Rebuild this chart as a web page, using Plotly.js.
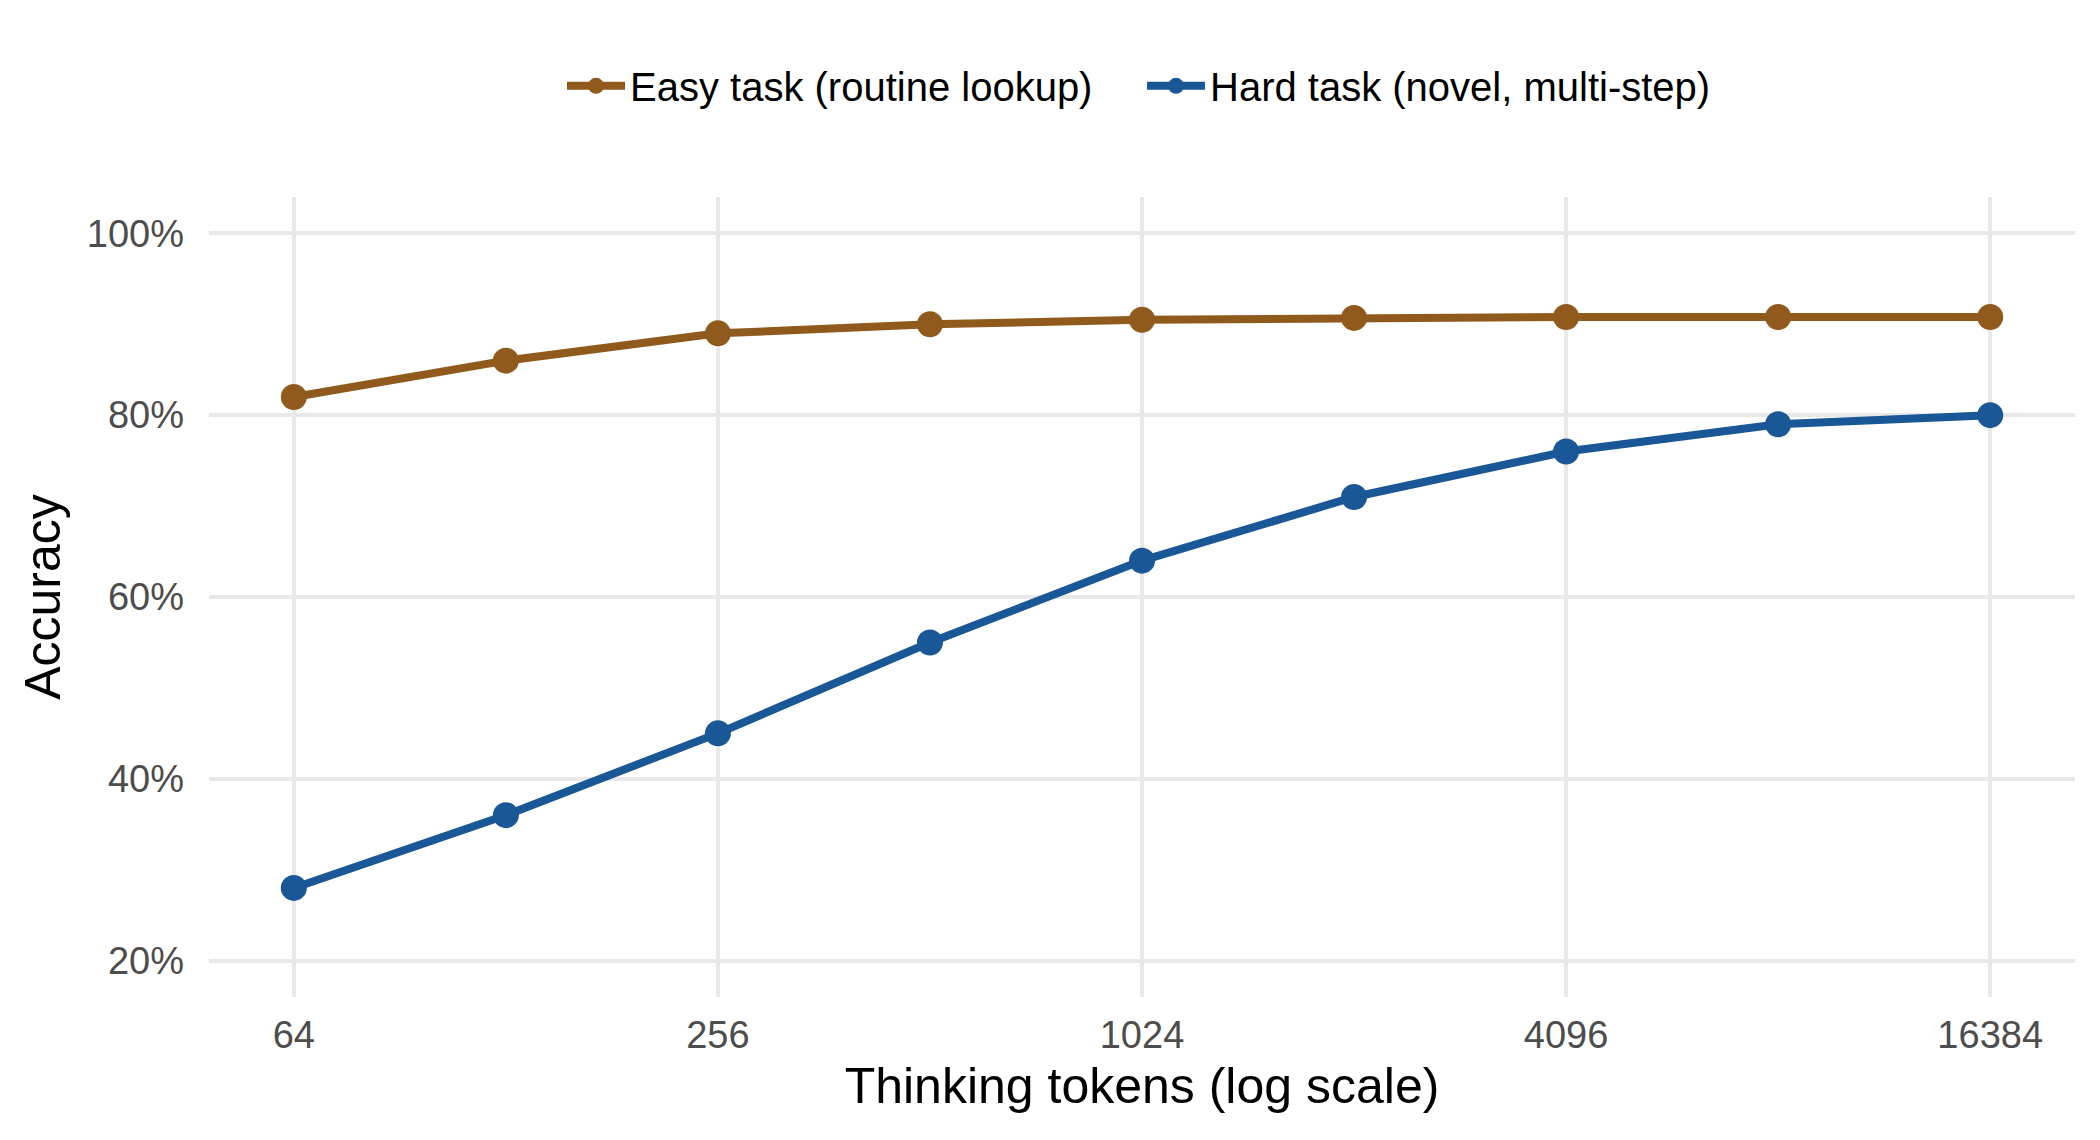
<!DOCTYPE html>
<html>
<head>
<meta charset="utf-8">
<script src="https://cdn.plot.ly/plotly-3.0.1.min.js"></script>
<style>html,body{margin:0;padding:0;background:#fff;}#chart{width:2100px;height:1140px;}</style>
</head>
<body>
<div id="chart"></div>
<script>
const tokens = [64, 128, 256, 512, 1024, 2048, 4096, 8192, 16384];
const easyAcc = [82, 86, 89, 90, 90.5, 90.7, 90.8, 90.8, 90.8];
const hardAcc = [28, 36, 45, 55, 64, 71, 76, 79, 80];
const seriesNames = ['Easy task (routine lookup)', 'Hard task (novel, multi-step)'];
const xTickVals = [64, 256, 1024, 4096, 16384];
const xTickText = ['64', '256', '1024', '4096', '16384'];
const yTickVals = [20, 40, 60, 80, 100];
const yTickText = ['20%', '40%', '60%', '80%', '100%'];

const FONT = 'Liberation Sans, Arial, Helvetica, sans-serif';
const colors = ['#8f5a1c', '#1a5796'];

const traces = [easyAcc, hardAcc].map((ys, i) => ({
  x: tokens, y: ys, name: seriesNames[i], type: 'scatter', mode: 'lines+markers',
  line: {color: colors[i], width: 8},
  marker: {color: colors[i], size: 26}
}));

const layout = {
  width: 2100, height: 1140,
  paper_bgcolor: '#fff', plot_bgcolor: '#fff',
  margin: {l: 209, r: 25, t: 197, b: 143, pad: 0},
  font: {family: FONT, color: '#000'},
  showlegend: true,
  legend: {orientation: 'h', x: 0.5, xanchor: 'center', y: 1.139, yanchor: 'middle',
           font: {size: 40, family: FONT, color: '#000'}, itemwidth: 58, traceorder: 'normal',
           entrywidth: 507, entrywidthmode: 'pixels'},
  xaxis: {
    type: 'log', range: [Math.log10(64) - 0.1204, Math.log10(16384) + 0.1204],
    tickvals: xTickVals, ticktext: xTickText, ticks: '', showline: false, zeroline: false,
    showgrid: true, gridcolor: '#e8e8e8', gridwidth: 4,
    tickfont: {size: 38, color: '#4d4d4d', family: FONT},
    ticklabelstandoff: 12,
    automargin: false,
    title: {text: 'Thinking tokens (log scale)', font: {size: 50, color: '#000', family: FONT}, standoff: 12}
  },
  yaxis: {
    range: [16, 104], tickvals: yTickVals, ticktext: yTickText, ticks: '',
    showline: false, zeroline: false,
    showgrid: true, gridcolor: '#e8e8e8', gridwidth: 4,
    tickfont: {size: 38, color: '#4d4d4d', family: FONT},
    ticklabelstandoff: 24,
    automargin: false,
    title: {text: 'Accuracy', font: {size: 50, color: '#000', family: FONT}, standoff: 10}
  }
};

Plotly.newPlot('chart', traces, layout, {displayModeBar: false, staticPlot: true});
</script>
</body>
</html>
